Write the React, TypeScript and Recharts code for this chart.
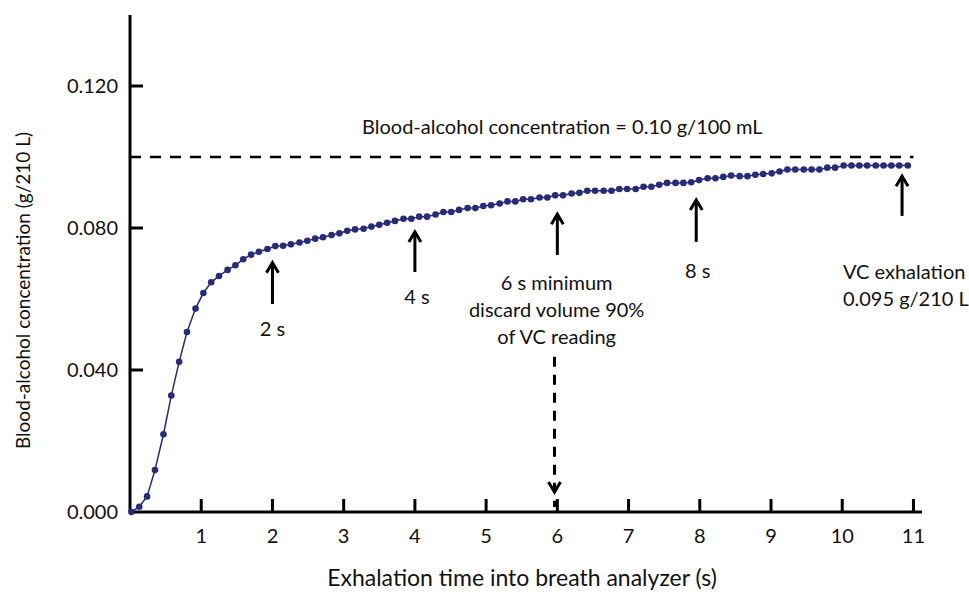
import { LineChart, Line, XAxis, YAxis, ReferenceLine, ReferenceDot } from "recharts";

// exhalation time (s) of each reading
const times = [
  0.02, 0.13, 0.24, 0.35, 0.47, 0.58, 0.69, 0.8, 0.92, 1.03,
  1.14, 1.25, 1.37, 1.48, 1.59, 1.7, 1.81, 1.93, 2.04, 2.15,
  2.26, 2.38, 2.49, 2.6, 2.71, 2.83, 2.94, 3.05, 3.16, 3.28,
  3.39, 3.5, 3.61, 3.72, 3.84, 3.95, 4.06, 4.17, 4.29, 4.4,
  4.51, 4.62, 4.74, 4.85, 4.96, 5.07, 5.19, 5.3, 5.41, 5.52,
  5.63, 5.75, 5.86, 5.97, 6.08, 6.2, 6.31, 6.42, 6.53, 6.65,
  6.76, 6.87, 6.98, 7.1, 7.21, 7.32, 7.43, 7.54, 7.66, 7.77,
  7.88, 7.99, 8.11, 8.22, 8.33, 8.44, 8.56, 8.67, 8.78, 8.89,
  9.01, 9.12, 9.23, 9.34, 9.46, 9.57, 9.68, 9.79, 9.9, 10.02,
  10.13, 10.24, 10.35, 10.47, 10.58, 10.69, 10.8, 10.92,
];

// breath alcohol (g/210 L)
const concentration = [
  0.0, 0.0015, 0.0044, 0.0118, 0.0219, 0.0328, 0.0423, 0.0507, 0.0573, 0.0617,
  0.0647, 0.0665, 0.0682, 0.0695, 0.0712, 0.0725, 0.0733, 0.0741, 0.0749, 0.075,
  0.0754, 0.0759, 0.0764, 0.077, 0.0774, 0.078, 0.0785, 0.0792, 0.0796, 0.0798,
  0.0804, 0.0809, 0.0815, 0.082, 0.0826, 0.0826, 0.0832, 0.0832, 0.0838, 0.0845,
  0.0845, 0.0851, 0.0856, 0.0856, 0.0862, 0.0864, 0.0869, 0.0875, 0.0875, 0.0881,
  0.0881, 0.0886, 0.0886, 0.0892, 0.0892, 0.0897, 0.0899, 0.0905, 0.0905, 0.0905,
  0.0905, 0.091, 0.091, 0.091, 0.0916, 0.0916, 0.0922, 0.0927, 0.0927, 0.0927,
  0.0929, 0.0935, 0.094, 0.094, 0.0944, 0.0948, 0.0946, 0.0946, 0.095, 0.0952,
  0.0954, 0.0959, 0.0965, 0.0965, 0.0965, 0.0965, 0.0965, 0.097, 0.097, 0.0976,
  0.0976, 0.0976, 0.0976, 0.0976, 0.0976, 0.0976, 0.0976, 0.0976,
];

const xTicks = [1, 2, 3, 4, 5, 6, 7, 8, 9, 10, 11];
const yTicks = [0, 0.04, 0.08, 0.12];
const yTickLabels = ["0.000", "0.040", "0.080", "0.120"];

const legalLimit = 0.1;
const limitLabel = "Blood-alcohol concentration = 0.10 g/100 mL";

// marker arrows under the curve
const arrowX = [2, 4, 6, 7.95, 10.84];
const arrowTail = [0.0586, 0.0676, 0.0724, 0.0761, 0.0834];
const arrowTip = [0.0702, 0.0789, 0.0839, 0.0879, 0.0946];

const noteX = [2, 4.03, 5.99, 7.97, 10.01];
const noteY = [0.0515, 0.0606, 0.0645, 0.0679, 0.0676];
const noteText = [
  ["2 s"],
  ["4 s"],
  ["6 s minimum", "discard volume 90%", "of VC reading"],
  ["8 s"],
  ["VC exhalation", "0.095 g/210 L"],
];

const data = times.map((t, i) => ({ t, c: concentration[i] }));

const FONT = "Lato, 'Open Sans', sans-serif";
const INK = "#111";
const NAVY = "#272b78";

function XTick({ x, y, payload }: any) {
  return (
    <g>
      <line x1={x} y1={y} x2={x} y2={y - 13} stroke="#000" strokeWidth={3} />
      <text x={x} y={y + 31} textAnchor="middle" fontSize={20} fontFamily={FONT} fill={INK}>
        {payload.value}
      </text>
    </g>
  );
}

function YTick({ x, y, index }: any) {
  return (
    <g>
      {index > 0 && <line x1={x} y1={y} x2={x + 13} y2={y} stroke="#000" strokeWidth={3} />}
      <text x={x - 12} y={y} dy="0.35em" textAnchor="end" fontSize={20} fontFamily={FONT} fill={INK}>
        {yTickLabels[index]}
      </text>
    </g>
  );
}

const arrow = (dashed: boolean) => (p: any) => {
  const { x1, y1, x2, y2 } = p;
  const d = y2 < y1 ? 1 : -1;
  const hy = dashed ? y2 + d * 15 : y2;
  return (
    <g>
      <line x1={x1} y1={y1} x2={x2} y2={y2} stroke="#000" strokeWidth={3}
        strokeDasharray={dashed ? "10 8" : undefined} />
      <path d={`M${x2 - 6},${hy + d * 10} L${x2},${hy} L${x2 + 6},${hy + d * 10}`}
        fill="none" stroke="#000" strokeWidth={3} />
    </g>
  );
};

const note = (lines: string[], anchor: string) => (p: any) => (
  <text x={p.cx} y={p.cy} textAnchor={anchor} fontSize={20} fontFamily={FONT} fill={INK}>
    {lines.map((l, i) => (
      <tspan key={i} x={p.cx} dy={i === 0 ? "0.35em" : 27}>{l}</tspan>
    ))}
  </text>
);

export default function App() {
  return (
    <div style={{ position: "absolute", left: 0, top: 0, width: 969, height: 593, background: "#fff" }}>
      <LineChart width={969} height={593} data={data} margin={{ top: 15, right: 47, left: 0, bottom: 0 }}>
        <XAxis
          type="number"
          dataKey="t"
          domain={[0, 11.12]}
          ticks={xTicks}
          height={81}
          tickSize={0}
          tickMargin={0}
          tickLine={false}
          tick={<XTick />}
          axisLine={{ stroke: "#000", strokeWidth: 3 }}
          label={{
            content: ({ viewBox }: any) => (
              <text x={viewBox.x + viewBox.width / 2 - 4} y={viewBox.y + 74} textAnchor="middle"
                fontSize={23} fontFamily={FONT} fill={INK}>
                Exhalation time into breath analyzer (s)
              </text>
            ),
          }}
        />
        <YAxis
          type="number"
          domain={[0, 0.14]}
          ticks={yTicks}
          width={130}
          tickSize={0}
          tickMargin={0}
          tickLine={false}
          tick={<YTick />}
          axisLine={{ stroke: "#000", strokeWidth: 3 }}
          label={{
            content: ({ viewBox }: any) => {
              const cx = viewBox.x + 22;
              const cy = viewBox.y + viewBox.height / 2 + 27;
              return (
                <text x={cx} y={cy} transform={`rotate(-90 ${cx} ${cy})`} textAnchor="middle"
                  dominantBaseline="central" fontSize={19} fontFamily={FONT} fill={INK}>
                  Blood-alcohol concentration (g/210 L)
                </text>
              );
            },
          }}
        />

        <ReferenceLine
          segment={[{ x: 0, y: legalLimit }, { x: 11, y: legalLimit }]}
          stroke="#000"
          strokeWidth={2.5}
          strokeDasharray="11 9"
        />
        <ReferenceDot x={6.07} y={0.1085} r={0} ifOverflow="visible" shape={note([limitLabel], "middle")} />

        {arrowX.map((x, i) => (
          <ReferenceLine key={"a" + i} segment={[{ x, y: arrowTail[i] }, { x, y: arrowTip[i] }]} shape={arrow(false)} />
        ))}
        <ReferenceLine segment={[{ x: 5.96, y: 0.0437 }, { x: 5.96, y: 0.0014 }]} shape={arrow(true)} />

        {noteX.map((x, i) => (
          <ReferenceDot key={"n" + i} x={x} y={noteY[i]} r={0} ifOverflow="visible"
            shape={note(noteText[i], i === 4 ? "start" : "middle")} />
        ))}

        <Line
          type="linear"
          dataKey="c"
          stroke={NAVY}
          strokeWidth={1.5}
          dot={{ r: 3.3, fill: NAVY, stroke: "none" }}
          isAnimationActive={false}
        />
      </LineChart>
    </div>
  );
}
